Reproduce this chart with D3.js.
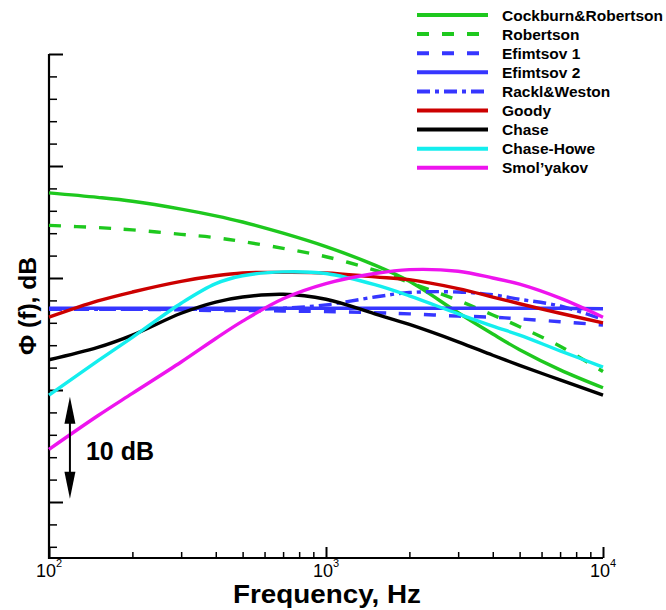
<!DOCTYPE html>
<html>
<head>
<meta charset="utf-8">
<script src="https://cdn.jsdelivr.net/npm/d3@7"></script>
<style>
  html, body { margin: 0; padding: 0; background: #fff; }
  svg { display: block; }
  text { font-family: "Liberation Sans", Arial, Helvetica, sans-serif; }
</style>
</head>
<body>
<script>
// ---------------- DATA ----------------
const frequencies = [100, 150, 200, 300, 400, 500, 700, 1000, 1500, 2000, 3000, 4000, 5000, 7000, 10000];

const seriesNames = ["Cockburn&Robertson", "Robertson", "Efimtsov 1", "Efimtsov 2", "Rackl&Weston", "Goody", "Chase", "Chase-Howe", "Smol\u2019yakov"];

const cockburnRobertson = [37.6, 37.2, 36.85, 36.15, 35.55, 35.0, 34.0, 32.8, 31.15, 29.7, 26.9, 25.0, 23.6, 21.8, 20.2];
const robertson         = [34.7, 34.5, 34.3, 33.9, 33.6, 33.25, 32.65, 31.9, 30.7, 29.6, 28.0, 26.7, 25.65, 23.9, 21.65];
const efimtsov1         = [27.2, 27.2, 27.2, 27.15, 27.1, 27.1, 27.05, 27.0, 26.9, 26.8, 26.6, 26.5, 26.35, 26.1, 25.8];
const efimtsov2         = [27.3, 27.3, 27.3, 27.3, 27.3, 27.3, 27.3, 27.3, 27.3, 27.3, 27.3, 27.3, 27.3, 27.3, 27.25];
const racklWeston       = [27.2, 27.2, 27.2, 27.2, 27.2, 27.2, 27.3, 27.6, 28.3, 28.7, 28.75, 28.5, 28.1, 27.5, 26.3];
const goody             = [26.5, 27.95, 28.75, 29.7, 30.2, 30.45, 30.5, 30.45, 30.1, 29.85, 29.05, 28.3, 27.7, 26.85, 26.0];
const chase             = [22.7, 23.8, 24.9, 26.85, 27.85, 28.3, 28.55, 28.1, 26.8, 25.85, 24.3, 23.1, 22.2, 20.9, 19.55];
const chaseHowe         = [19.55, 22.6, 24.7, 27.75, 29.5, 30.2, 30.55, 30.4, 29.4, 28.4, 26.8, 25.7, 24.9, 23.5, 22.05];
const smolyakov         = [14.7, 17.7, 19.7, 22.5, 24.6, 26.15, 28.15, 29.5, 30.4, 30.75, 30.6, 30.0, 29.45, 28.2, 26.5];

const seriesValues = [cockburnRobertson, robertson, efimtsov1, efimtsov2, racklWeston, goody, chase, chaseHowe, smolyakov];

const xMajorTicks = [100, 1000, 10000];
const xTickExponents = ["2", "3", "4"];
const xMinorTicks = [200, 300, 400, 500, 600, 700, 800, 900, 2000, 3000, 4000, 5000, 6000, 7000, 8000, 9000];
const yMajorTicks = [10, 20, 30, 40, 50];
const yMinorTicks = [6, 8, 12, 14, 16, 18, 22, 24, 26, 28, 32, 34, 36, 38, 42, 44, 46, 48];

// annotation (10 dB arrow)
const arrowFreq = 119;
const arrowTop = 19.4, arrowBottom = 10.3;

// ---------------- STYLES ----------------
const seriesColors = ["#1ec81e", "#1ec81e", "#3636ff", "#3636ff", "#3636ff", "#cc0000", "#000000", "#14eeee", "#ee14ee"];
const seriesDash   = [null, "12,13", "12,13", null, "13,5,4,5", null, null, null, null];

// ---------------- CHART ----------------
const W = 666, H = 610;
const svg = d3.select("body").append("svg").attr("width", W).attr("height", H);

const x = d3.scaleLog().domain([100, 10000]).range([49, 603]);
const y = d3.scaleLinear().domain([5, 50]).range([558, 54]);

// axes
const gy = svg.append("g").attr("transform", `translate(${x(100)},0)`);
gy.call(d3.axisRight(y).tickValues(yMinorTicks).tickSize(8).tickSizeOuter(0).tickFormat(""))
  .call(g => g.select(".domain").remove())
  .call(g => g.selectAll(".tick line").attr("stroke", "#000").attr("stroke-width", 1.5));
const gy2 = svg.append("g").attr("transform", `translate(${x(100)},0)`);
gy2.call(d3.axisRight(y).tickValues(yMajorTicks).tickSize(14).tickSizeOuter(0).tickFormat(""))
  .call(g => g.select(".domain").remove())
  .call(g => g.selectAll(".tick line").attr("stroke", "#000").attr("stroke-width", 2));

const gx = svg.append("g").attr("transform", `translate(0,${y(5)})`);
gx.call(d3.axisTop(x).tickValues(xMinorTicks).tickSize(6).tickSizeOuter(0).tickFormat(""))
  .call(g => g.select(".domain").remove())
  .call(g => g.selectAll(".tick line").attr("stroke", "#000").attr("stroke-width", 1.5));
const gx2 = svg.append("g").attr("transform", `translate(0,${y(5)})`);
gx2.call(d3.axisTop(x).tickValues(xMajorTicks).tickSize(11).tickSizeOuter(0).tickFormat(""))
  .call(g => g.select(".domain").remove())
  .call(g => g.selectAll(".tick line").attr("stroke", "#000").attr("stroke-width", 2));

// axis lines
svg.append("path")
  .attr("d", `M${x(100)},${y(50)}V${y(5)}H${x(10000)}`)
  .attr("fill", "none").attr("stroke", "#000").attr("stroke-width", 2.2)
  .attr("stroke-linejoin", "miter");

// x tick labels
xMajorTicks.forEach((v, i) => {
  const t = svg.append("text")
    .attr("x", x(v)).attr("y", 577)
    .attr("text-anchor", "middle")
    .attr("font-size", 18).attr("fill", "#000");
  t.append("tspan").text("10");
  t.append("tspan").attr("dy", -10).attr("font-size", 11).text(xTickExponents[i]);
});

// axis titles
svg.append("text")
  .attr("x", (x(100) + x(10000)) / 2 + 1).attr("y", 603)
  .attr("text-anchor", "middle")
  .attr("font-size", 25).attr("font-weight", "bold")
  .attr("textLength", 188).attr("lengthAdjust", "spacingAndGlyphs")
  .text("Frequency, Hz");

svg.append("text")
  .attr("transform", `translate(36,${306}) rotate(-90)`)
  .attr("text-anchor", "middle")
  .attr("font-size", 24).attr("font-weight", "bold")
  .attr("textLength", 98).attr("lengthAdjust", "spacingAndGlyphs")
  .text("\u03A6 (f), dB");

// curves
const line = d3.line()
  .x(d => x(d.f))
  .y(d => y(d.v))
  .curve(d3.curveCatmullRom.alpha(0.5));

seriesValues.forEach((vals, i) => {
  const pts = frequencies.map((f, k) => ({ f: f, v: vals[k] }));
  svg.append("path")
    .datum(pts)
    .attr("d", line)
    .attr("fill", "none")
    .attr("stroke", seriesColors[i])
    .attr("stroke-width", 3.4)
    .attr("stroke-dasharray", seriesDash[i])
    .attr("stroke-linecap", "butt");
});

// 10 dB arrow
const ax = x(arrowFreq), ay1 = y(arrowTop), ay2 = y(arrowBottom);
svg.append("line")
  .attr("x1", ax).attr("x2", ax).attr("y1", ay1 + 10).attr("y2", ay2 - 10)
  .attr("stroke", "#000").attr("stroke-width", 2);
svg.append("path")
  .attr("d", `M${ax},${ay1}L${ax - 5.5},${ay1 + 27}L${ax + 5.5},${ay1 + 27}Z`)
  .attr("fill", "#000");
svg.append("path")
  .attr("d", `M${ax},${ay2}L${ax - 5.5},${ay2 - 27}L${ax + 5.5},${ay2 - 27}Z`)
  .attr("fill", "#000");
svg.append("text")
  .attr("x", ax + 16).attr("y", 460)
  .attr("font-size", 25).attr("font-weight", "bold")
  .text("10 dB");

// legend
const legendY0 = 15, legendStep = 19.1;
const lg = svg.append("g");
seriesNames.forEach((name, i) => {
  const ly = legendY0 + i * legendStep;
  lg.append("line")
    .attr("x1", 417).attr("x2", 488).attr("y1", ly).attr("y2", ly)
    .attr("stroke", seriesColors[i]).attr("stroke-width", 4)
    .attr("stroke-dasharray", seriesDash[i]);
  lg.append("text")
    .attr("x", 502).attr("y", ly + 5.6)
    .attr("font-size", 15.5).attr("font-weight", "bold")
    .text(name);
});
</script>
</body>
</html>
